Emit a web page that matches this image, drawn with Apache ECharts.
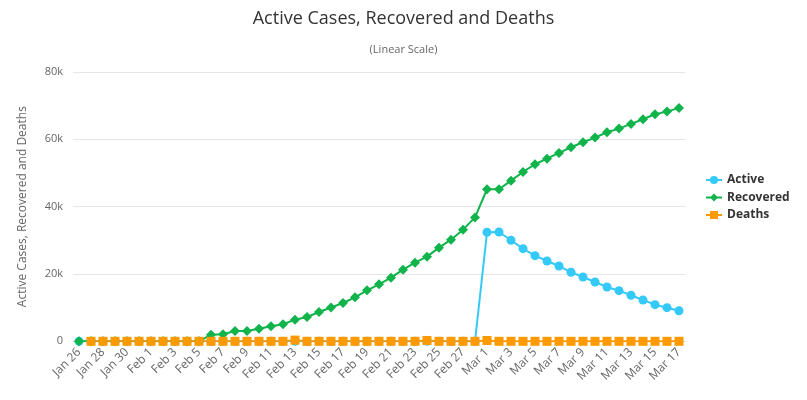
<!DOCTYPE html>
<html>
<head>
<meta charset="utf-8">
<script src="https://cdn.jsdelivr.net/npm/echarts@6/dist/echarts.min.js"></script>
<style>html,body{margin:0;padding:0;background:#fff}#c{width:807px;height:400px}</style>
</head>
<body>
<div id="c"></div>
<script>
var categories = ["Jan 26","Jan 27","Jan 28","Jan 29","Jan 30","Jan 31","Feb 1","Feb 2","Feb 3","Feb 4","Feb 5","Feb 6","Feb 7","Feb 8","Feb 9","Feb 10","Feb 11","Feb 12","Feb 13","Feb 14","Feb 15","Feb 16","Feb 17","Feb 18","Feb 19","Feb 20","Feb 21","Feb 22","Feb 23","Feb 24","Feb 25","Feb 26","Feb 27","Feb 28","Mar 1","Mar 2","Mar 3","Mar 4","Mar 5","Mar 6","Mar 7","Mar 8","Mar 9","Mar 10","Mar 11","Mar 12","Mar 13","Mar 14","Mar 15","Mar 16","Mar 17"];
var active = [0,0,0,0,0,0,0,0,0,0,0,0,0,0,0,0,0,0,0,0,0,0,0,0,0,0,0,0,0,0,0,0,0,0,32390,32480,30010,27520,25440,23860,22380,20500,19110,17620,16140,15040,13670,12270,10880,9990,9090];
var recovered = [0,0,0,0,0,0,0,0,0,0,0,1960,2080,3060,3060,3750,4460,5050,6420,7220,8710,10050,11380,13070,15150,16940,18900,21280,23360,25140,27820,30190,33160,36800,45170,45170,47730,50310,52600,54260,55960,57650,59140,60510,62110,63180,64580,65970,67460,68230,69330];
var deaths = [null,0,0,0,0,0,0,0,0,0,0,0,0,0,0,0,0,0,350,0,0,0,0,0,0,0,0,0,0,250,0,0,0,0,250,0,0,0,0,0,0,0,0,0,0,0,0,0,0,0,0];
var yTicks = {min: 0, max: 80000, interval: 20000};

var font = "'Open Sans', 'Noto Sans', sans-serif";
var chart = echarts.init(document.getElementById('c'), null, {renderer: 'canvas'});
chart.setOption({
  animation: false,
  textStyle: {fontFamily: font},
  title: [{
    text: 'Active Cases, Recovered and Deaths',
    left: 'center', top: 5,
    textStyle: {fontSize: 18, fontWeight: 'normal', color: '#333333', fontFamily: font}
  }, {
    text: '(Linear Scale)',
    left: 'center', top: 39,
    textStyle: {fontSize: 11, fontWeight: 'normal', color: '#666666', fontFamily: font}
  }],
  legend: {
    orient: 'vertical',
    left: 700, top: 169,
    itemWidth: 16, itemHeight: 10, itemGap: 5.5,
    textStyle: {fontSize: 12, fontWeight: 'bold', color: '#333333', fontFamily: font},
    data: ['Active', 'Recovered', 'Deaths']
  },
  grid: {left: 73, right: 122, top: 72, bottom: 58.7, containLabel: false},
  xAxis: {
    type: 'category',
    data: categories,
    boundaryGap: true,
    axisLine: {lineStyle: {color: '#ccd6eb'}},
    axisTick: {show: false},
    axisLabel: {rotate: 45, interval: 1, fontSize: 12, color: '#666666', margin: 9, fontFamily: font}
  },
  yAxis: {
    type: 'value',
    min: yTicks.min, max: yTicks.max, interval: yTicks.interval,
    name: 'Active Cases, Recovered and Deaths',
    nameLocation: 'middle', nameGap: 44,
    nameTextStyle: {fontSize: 12, color: '#666666', fontFamily: font},
    axisLine: {show: false}, axisTick: {show: false},
    splitLine: {lineStyle: {color: '#e6e6e6'}},
    axisLabel: {fontSize: 11, color: '#666666', margin: 10, fontFamily: font,
      formatter: function (v) { return v === 0 ? '0' : (v / 1000) + 'k'; }}
  },
  series: [{
    name: 'Active', type: 'line', data: active,
    symbol: 'circle', symbolSize: 9, showAllSymbol: true,
    itemStyle: {color: '#35c9f7'}, lineStyle: {width: 2, color: '#35c9f7'}
  }, {
    name: 'Recovered', type: 'line', data: recovered,
    symbol: 'diamond', symbolSize: 10, showAllSymbol: true,
    itemStyle: {color: '#10b44a'}, lineStyle: {width: 2, color: '#10b44a'}
  }, {
    name: 'Deaths', type: 'line', data: deaths,
    symbol: 'rect', symbolSize: 9, showAllSymbol: true,
    itemStyle: {color: '#ff9900'}, lineStyle: {width: 2, color: '#ff9900'}
  }]
});
</script>
</body>
</html>
